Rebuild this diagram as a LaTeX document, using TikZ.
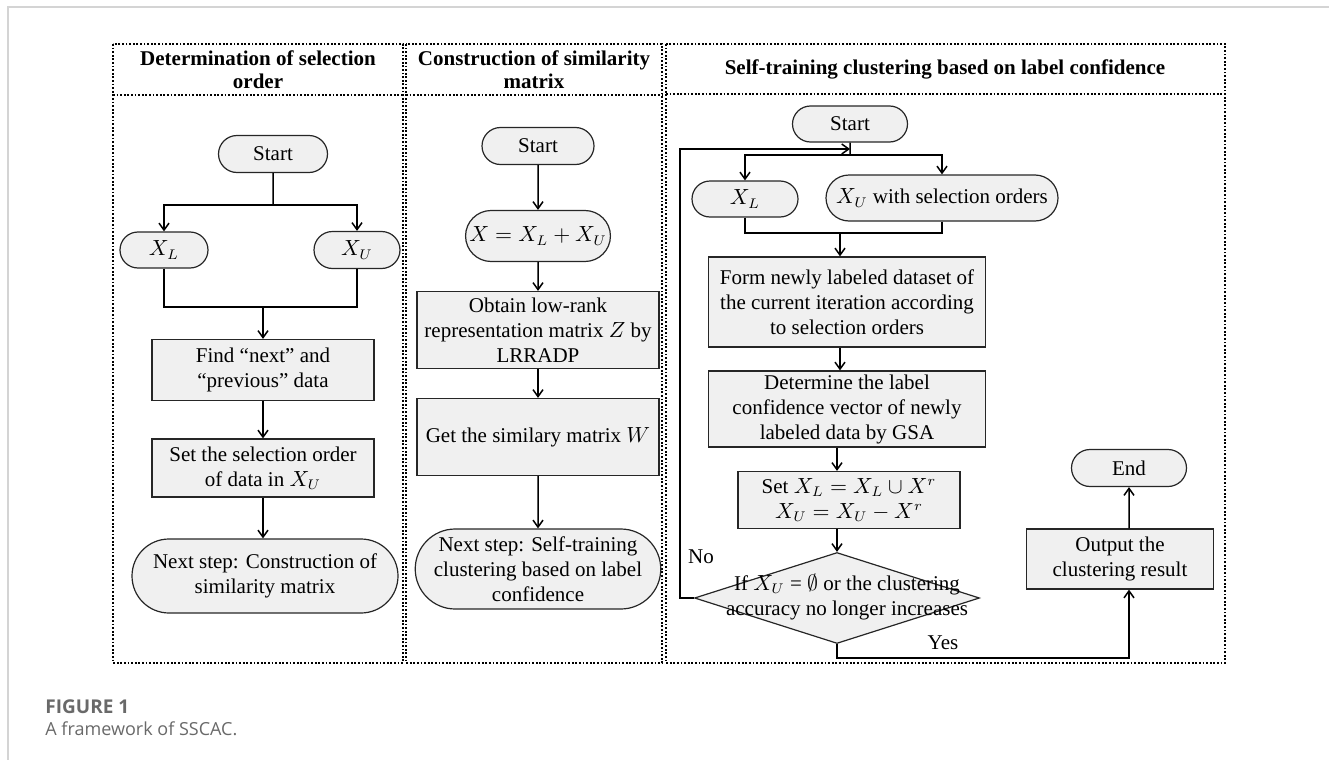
\documentclass[tikz,border=0pt]{standalone}
\usepackage{amsmath}
\usepackage{amssymb}
\usepackage{fontspec}
\setmainfont{Liberation Serif}
\newfontfamily\capfont{Open Sans}
\usepackage{tikz}
\usetikzlibrary{shapes.misc,shapes.geometric,arrows.meta}
\definecolor{boxgray}{RGB}{240,240,240}
\definecolor{framegray}{RGB}{212,212,212}
\definecolor{capgray}{RGB}{105,105,105}
\tikzset{every picture/.style={line width=0.75pt}}
\tikzset{
  panel/.style={line width=1.4pt, dash pattern=on 0.9pt off 0.9pt},
  headtxt/.style={align=center, font=\fontsize{10.5}{11.5}\selectfont\bfseries},
  termbox/.style={rounded rectangle, draw=black!85, line width=0.6pt, fill=boxgray,
    align=center, inner sep=1pt, font=\fontsize{10.5}{12.5}\selectfont},
  procbox/.style={rectangle, draw=black!85, line width=0.6pt, fill=boxgray,
    align=center, inner sep=1pt, font=\fontsize{10.5}{12.5}\selectfont},
  decbox/.style={diamond, draw=black!85, line width=0.6pt, fill=boxgray, inner sep=0pt},
  plaintxt/.style={align=center, font=\fontsize{10.5}{12.5}\selectfont},
  flow/.style={-{Straight Barb[length=3.5pt,width=5pt]}},
}

\begin{document}
\begin{tikzpicture}[x=0.5pt,y=0.5pt,yscale=-1,xscale=1]
		\useasboundingbox (0,0) rectangle (1329,760);
		
		%Page frame
		\draw [framegray, line width=1pt] (8,760) -- (8,7) -- (1329,7) ;
		
		%Shape: Panels
		\draw [panel] (113,44) rectangle (403,663) ;
		\draw [panel] (113,95) -- (403,95) ;
		\draw [panel] (406,44) rectangle (662,663) ;
		\draw [panel] (406,95) -- (662,95) ;
		\draw [panel] (666,44) rectangle (1225,663) ;
		\draw [panel] (666,94) -- (1225,94) ;
		
		% Text Node
		\node [headtxt] (h1) at (258,70) {Determination of selection\\order};
		% Text Node
		\node [headtxt] (h2) at (534,70) {Construction of similarity\\matrix};
		% Text Node
		\node [headtxt] (h3) at (945,69) {Self-training clustering based on label confidence};
		
		%%% Panel 1
		\node [termbox, minimum width=56.5pt, minimum height=18.5pt] (s1start) at (273,154) {Start};
		\node [termbox, minimum width=46pt, minimum height=18pt] (s1xl) at (164,250) {$X_L$};
		\node [termbox, minimum width=45pt, minimum height=18.5pt] (s1xu) at (357,250) {$X_U$};
		\node [procbox, minimum width=111pt, minimum height=30.5pt] (s1find) at (263,370) {Find “next” and\\“previous” data};
		\node [procbox, minimum width=111pt, minimum height=29pt] (s1set) at (263,468) {Set the selection order\\of data in $X_U$};
		\node [termbox, minimum width=135pt, minimum height=37pt] (s1next) at (265,576) {Next step: Construction of\\similarity matrix};
		\coordinate (s1split) at (273,205);
		\coordinate (s1merge) at (263,307);
		
		\draw (s1start) -- (s1split) ;
		\draw [flow] (s1split) -| (s1xl) ;
		\draw [flow] (s1split) -| (s1xu) ;
		\draw (s1xl) |- (s1merge) ;
		\draw (s1xu) |- (s1merge) ;
		\draw [flow] (s1merge) -- (s1find) ;
		\draw [flow] (s1find) -- (s1set) ;
		\draw [flow] (s1set) -- (s1set |- s1next.north) ;
		
		%%% Panel 2
		\node [termbox, minimum width=58pt, minimum height=18.5pt] (s2start) at (538,146) {Start};
		\node [termbox, minimum width=65pt, minimum height=25.5pt] (s2sum) at (538,236) {$X = X_L + X_U$};
		\node [procbox, minimum width=121pt, minimum height=38.5pt] (s2obtain) at (538,330) {Obtain low-rank\\representation matrix $Z$ by\\LRRADP};
		\node [procbox, minimum width=121pt, minimum height=38.5pt] (s2get) at (538,437) {Get the similary matrix $W$};
		\node [termbox, minimum width=121pt, minimum height=40pt] (s2next) at (538,569) {Next step: Self-training\\clustering based on label\\confidence};
		
		\draw [flow] (s2start) -- (s2sum) ;
		\draw [flow] (s2sum) -- (s2obtain) ;
		\draw [flow] (s2obtain) -- (s2get) ;
		\draw [flow] (s2get) -- (s2next) ;
		
		%%% Panel 3
		\node [termbox, minimum width=59.5pt, minimum height=18pt] (s3start) at (850,124) {Start};
		\node [termbox, minimum width=55pt, minimum height=18pt] (s3xl) at (745,199) {$X_L$};
		\node [termbox, minimum width=118pt, minimum height=23pt] (s3xu) at (942,198) {$X_U$ with selection orders};
		\node [procbox, minimum width=138.5pt, minimum height=45pt] (s3form) at (847,302) {Form newly labeled dataset of\\the current iteration according\\to selection orders};
		\node [procbox, minimum width=138.5pt, minimum height=38pt] (s3conf) at (847,409) {Determine the label\\confidence vector of newly\\labeled data by GSA};
		\node [procbox, minimum width=111pt, minimum height=28.5pt] (s3upd) at (849,500) {Set $X_L = X_L \cup X^r$\\$X_U = X_U - X^r$};
		\node [decbox, minimum width=142.5pt, minimum height=45.5pt] (s3dec) at (837,598) {};
		\node [plaintxt] (s3dectxt) at (847,597) {If $X_U$ = $\emptyset$ or the clustering\\accuracy no longer increases};
		\node [procbox, minimum width=93.5pt, minimum height=30pt] (s3out) at (1120,559) {Output the\\clustering result};
		\node [termbox, minimum width=59.5pt, minimum height=18.5pt] (s3end) at (1129,468) {End};
		% Text Node
		\node [plaintxt] (s3no) at (701,557) {No};
		% Text Node
		\node [plaintxt] (s3yes) at (943,643) {Yes};
		\coordinate (s3split) at (850,155);
		\coordinate (s3loop) at (850,149);
		\coordinate (s3merge) at (840,233);
		\coordinate (s3col) at (1129,658);
		
		\draw (s3start) -- (s3split) ;
		\draw [flow] (s3split) -| (s3xl) ;
		\draw [flow] (s3split) -| (s3xu) ;
		\draw (s3xl) |- (s3merge) ;
		\draw (s3xu) |- (s3merge) ;
		\draw [flow] (s3merge) -- (s3merge |- s3form.north) ;
		\draw [flow] (s3form.south -| s3merge) -- (s3conf.north -| s3merge) ;
		\draw [flow] (s3conf.south -| s3dec) -- (s3upd.north -| s3dec) ;
		\draw [flow] (s3upd.south -| s3dec) -- (s3dec.north) ;
		\draw [flow] (s3dec.west) -- ++(-14,0) |- (s3loop) ;
		\draw [flow] (s3dec.south) |- (s3col) -- (s3col |- s3out.south) ;
		\draw [flow] (s3out.north -| s3col) -- (s3end) ;
		
		%Caption
		\node [anchor=west, text=capgray, font=\capfont\fontsize{9.5}{11}\selectfont\bfseries] (capnum) at (38,707) {FIGURE 1};
		\node [anchor=west, text=capgray, font=\capfont\fontsize{9}{11}\selectfont] (captxt) at (38,729) {A framework of SSCAC.};
		
\end{tikzpicture}
\end{document}
